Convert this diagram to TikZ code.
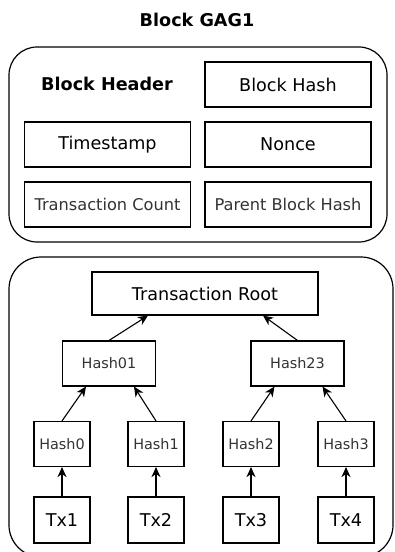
\documentclass[tikz,border=0pt]{standalone}
\usepackage{fontspec}
\setmainfont{DejaVu Sans}
\usetikzlibrary{arrows.meta,calc}
\definecolor{softtext}{HTML}{333333}
\tikzset{
  box/.style={draw=black, line width=1.1pt, fill=white, inner sep=0pt, align=center},
  fieldbox/.style={box, minimum width=166pt, minimum height=45pt, font=\fontsize{17.6}{20}\selectfont},
  smallfield/.style={fieldbox, font=\fontsize{16.2}{18}\selectfont, text=softtext},
  hashbox/.style={box, minimum height=45pt, font=\fontsize{14.4}{16}\selectfont, text=softtext},
  txbox/.style={box, minimum width=56pt, minimum height=46pt, font=\fontsize{17.6}{20}\selectfont},
  container/.style={draw=black, line width=1.2pt, rounded corners=28pt},
  link/.style={draw=black, line width=1.1pt, -{Stealth[length=10pt,width=9pt,inset=3pt]}}
}
\begin{document}
\begin{tikzpicture}[x=1pt,y=-1pt]
\useasboundingbox (0,0) rectangle (394,552);
\fill[white] (0,0) rectangle (394,552);

\node[font=\bfseries\fontsize{17.6}{20}\selectfont] (title) at (197,20) {Block GAG1};

% header container
\draw[container] (9,47) rectangle (387,242);
\node[font=\bfseries\fontsize{17.6}{20}\selectfont] (hdr) at (107,84) {Block Header};
\node[fieldbox] (bhash) at (288,84.5) {Block Hash};
\node[fieldbox] (ts) at (107.5,144.5) {Timestamp};
\node[fieldbox] (nonce) at (288,144.5) {Nonce};
\node[smallfield] (txc) at (107.5,204.5) {Transaction Count};
\node[smallfield] (parent) at (288,204.5) {Parent Block Hash};

% transaction container
\draw[container, rounded corners=32pt] (9,257) rectangle (393,557);
\node[box, minimum width=226pt, minimum height=43pt, font=\fontsize{17.6}{20}\selectfont] (root) at (205,293.5) {Transaction Root};
\node[hashbox, minimum width=93pt] (h01) at (109,363.5) {Hash01};
\node[hashbox, minimum width=93pt] (h23) at (297.5,363.5) {Hash23};
\node[hashbox, minimum width=56pt] (h0) at (62,444) {Hash0};
\node[hashbox, minimum width=56pt] (h1) at (156,444) {Hash1};
\node[hashbox, minimum width=56pt] (h2) at (251,444) {Hash2};
\node[hashbox, minimum width=56pt] (h3) at (346,444) {Hash3};
\node[txbox] (tx1) at (62,520) {Tx1};
\node[txbox] (tx2) at (156,520) {Tx2};
\node[txbox] (tx3) at (251,520) {Tx3};
\node[txbox] (tx4) at (346,520) {Tx4};

% connectors
\draw[link] (tx1.north) -- (h0.south);
\draw[link] (tx2.north) -- (h1.south);
\draw[link] (tx3.north) -- (h2.south);
\draw[link] (tx4.north) -- (h3.south);
\draw[link] (h0.north) -- ($(h01.south)+(-23,0)$);
\draw[link] (h1.north) -- ($(h01.south)+(25,0)$);
\draw[link] (h2.north) -- ($(h23.south)+(-23,0)$);
\draw[link] (h3.north) -- ($(h23.south)+(25,0)$);
\draw[link] (h01.north) -- ($(root.south)+(-57,0)$);
\draw[link] (h23.north) -- ($(root.south)+(58,0)$);
\end{tikzpicture}
\end{document}
